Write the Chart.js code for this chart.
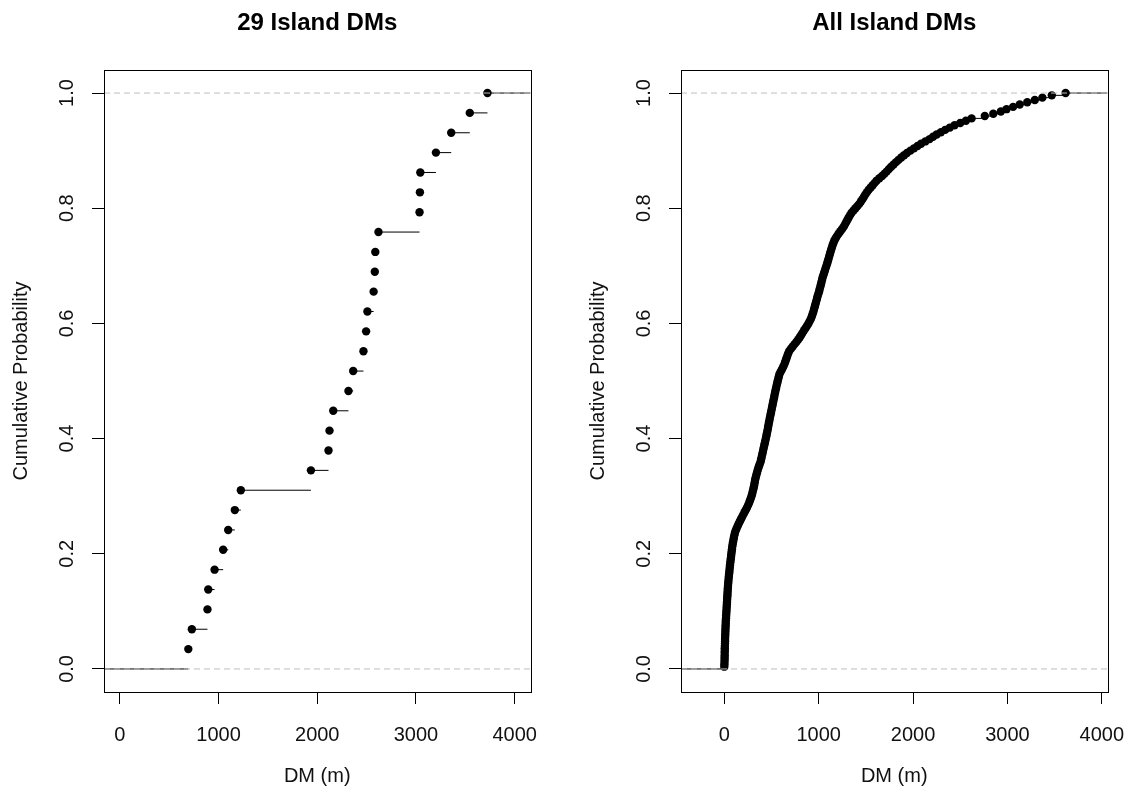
<!DOCTYPE html>
<html>
<head>
<meta charset="utf-8">
<title>Island DMs</title>
<script src="https://cdn.jsdelivr.net/npm/chart.js@4.4.1/dist/chart.umd.min.js"></script>
<style>
  html, body { margin: 0; padding: 0; background: #fff; overflow: hidden; }
  #wrap { position: relative; width: 1130px; height: 793px; }
  #wrap canvas { position: absolute; top: 0; }
</style>
</head>
<body>
<div id="wrap">
  <canvas id="chart29" width="553" height="793" style="left:0"></canvas>
  <canvas id="chartAll" width="553" height="793" style="left:577px"></canvas>
</div>
<script>
// sorted DM values (m)
const islandDM29 = [694, 730, 888, 896, 960, 1047, 1098, 1165, 1226, 1936,
  2114, 2124, 2162, 2316, 2364, 2468, 2495, 2508, 2571, 2583,
  2588, 2620, 3036, 3040, 3044, 3202, 3357, 3545, 3724];

const allIslandDM = [
  0, 1, 2, 3, 3, 4, 4, 5, 5, 6, 7, 8, 8, 9, 10, 11, 12, 13, 14, 15,
  16, 18, 19, 21, 22, 24, 25, 27, 28, 30, 31, 33, 34, 36, 37, 39, 41, 43, 45, 48,
  50, 53, 55, 58, 60, 63, 66, 69, 72, 75, 78, 81, 84, 88, 92, 97, 101, 106, 112, 120,
  130, 141, 152, 164, 176, 188, 201, 214, 227, 240, 251, 262, 271, 280, 288, 295, 301, 307, 313, 318,
  322, 326, 332, 338, 345, 352, 359, 367, 376, 385, 390, 396, 401, 407, 412, 418, 423, 429, 434, 440,
  445, 450, 455, 460, 464, 469, 473, 478, 483, 488, 493, 498, 503, 508, 513, 518, 523, 528, 533, 538,
  543, 549, 554, 560, 566, 572, 578, 585, 597, 610, 622, 634, 643, 652, 660, 668, 677, 688, 706, 725,
  745, 765, 783, 800, 815, 830, 846, 862, 877, 892, 905, 918, 927, 935, 943, 950, 957, 963, 970, 977,
  983, 990, 998, 1005, 1011, 1018, 1024, 1030, 1036, 1042, 1050, 1058, 1066, 1074, 1082, 1090, 1097, 1104, 1111, 1118,
  1125, 1132, 1140, 1148, 1157, 1166, 1180, 1195, 1212, 1230, 1248, 1265, 1279, 1292, 1305, 1318, 1333, 1348, 1369, 1390,
  1411, 1432, 1449, 1465, 1480, 1495, 1512, 1530, 1551, 1572, 1593, 1615, 1643, 1672, 1697, 1722, 1745, 1768, 1794, 1820,
  1847, 1875, 1905, 1935, 1972, 2010, 2047, 2085, 2130, 2175, 2212, 2250, 2295, 2340, 2390, 2440, 2500, 2560, 2620, 2760,
  2850, 2930, 2990, 3060, 3130, 3210, 3290, 3370, 3470, 3616];

const dmTicks = [0, 1000, 2000, 3000, 4000];
const probTicks = [0, 0.2, 0.4, 0.6, 0.8, 1.0];

const FONT = '"Liberation Sans", Arial, Helvetica, sans-serif';
Chart.defaults.font.family = FONT;
Chart.defaults.color = '#111';

// box around the plot region
const plotBox = {
  id: 'plotBox',
  afterDraw(chart) {
    const { ctx, chartArea: a } = chart;
    ctx.save();
    ctx.strokeStyle = '#000';
    ctx.lineWidth = 1;
    ctx.strokeRect(Math.round(a.left) + 0.5, Math.round(a.top) + 0.5,
      Math.round(a.right - a.left), Math.round(a.bottom - a.top));
    ctx.restore();
  }
};

// main title, centred over the plot region rather than the canvas
const panelTitle = {
  id: 'panelTitle',
  afterDraw(chart, args, opts) {
    const { ctx, chartArea: a } = chart;
    ctx.save();
    ctx.font = 'bold 24px ' + FONT;
    ctx.fillStyle = '#000';
    ctx.textAlign = 'center';
    ctx.textBaseline = 'middle';
    ctx.fillText(opts.text, (a.left + a.right) / 2, 23);
    ctx.restore();
  }
};

// horizontal pieces of the step function, broken by null points
function stepSegments(values, xMin, xMax) {
  const n = values.length;
  const segs = [{ x: xMin, y: 0 }, { x: values[0], y: 0 }, { x: values[0], y: null }];
  values.forEach((v, i) => {
    const p = (i + 1) / n;
    const next = i < n - 1 ? values[i + 1] : xMax;
    segs.push({ x: v, y: p }, { x: next, y: p }, { x: next, y: null });
  });
  return segs;
}

function refLine(y, xMin, xMax) {
  return {
    data: [{ x: xMin, y: y }, { x: xMax, y: y }],
    showLine: true,
    borderColor: '#bebebe',
    borderWidth: 1,
    borderDash: [6, 4],
    pointRadius: 0,
    order: 0
  };
}

function ecdfChart(canvasId, title, values, xMin, xMax) {
  const n = values.length;
  return new Chart(document.getElementById(canvasId), {
    type: 'scatter',
    data: {
      datasets: [
        refLine(0, xMin, xMax),
        refLine(1, xMin, xMax),
        {
          data: values.map((v, i) => ({ x: v, y: (i + 1) / n })),
          pointRadius: 4.2,
          pointBackgroundColor: '#000',
          pointBorderWidth: 0,
          showLine: false,
          order: 1
        },
        {
          data: stepSegments(values, xMin, xMax),
          showLine: true,
          spanGaps: false,
          borderColor: '#000',
          borderWidth: 1,
          pointRadius: 0,
          order: 2
        }
      ]
    },
    options: {
      responsive: false,
      animation: false,
      layout: { padding: { left: 0, right: 22.5, top: 70, bottom: 0 } },
      plugins: {
        legend: { display: false },
        tooltip: { enabled: false },
        title: { display: false },
        panelTitle: { text: title }
      },
      scales: {
        x: {
          type: 'linear',
          min: xMin,
          max: xMax,
          afterBuildTicks: axis => { axis.ticks = dmTicks.map(v => ({ value: v })); },
          afterFit: axis => {
            axis.height = 101;
            axis.paddingLeft = 0;
            axis.paddingRight = 0;
          },
          border: { display: false },
          grid: { drawOnChartArea: false, drawTicks: true, tickLength: 12, tickColor: '#000', tickWidth: 1 },
          ticks: {
            autoSkip: false,
            maxRotation: 0,
            padding: 19,
            font: { size: 20 },
            callback: v => String(v)
          },
          title: {
            display: true,
            text: 'DM (m)',
            font: { size: 20 },
            padding: { top: 0, bottom: 5 }
          }
        },
        y: {
          type: 'linear',
          min: -0.04,
          max: 1.04,
          afterBuildTicks: axis => { axis.ticks = probTicks.map(v => ({ value: v })); },
          afterFit: axis => {
            axis.width = 104;
            axis.paddingTop = 0;
            axis.paddingBottom = 0;
          },
          border: { display: false },
          grid: { drawOnChartArea: false, drawTicks: true, tickLength: 12, tickColor: '#000', tickWidth: 1 },
          ticks: {
            minRotation: 90,
            maxRotation: 90,
            crossAlign: 'center',
            padding: 10.6,
            font: { size: 20 },
            callback: v => Number(v).toFixed(1)
          },
          title: {
            display: true,
            text: 'Cumulative Probability',
            font: { size: 20 },
            padding: { top: 9, bottom: 0 }
          }
        }
      }
    },
    plugins: [plotBox, panelTitle]
  });
}

ecdfChart('chart29', '29 Island DMs', islandDM29, -160, 4160);
ecdfChart('chartAll', 'All Island DMs', allIslandDM, -459, 4060);
</script>
</body>
</html>
